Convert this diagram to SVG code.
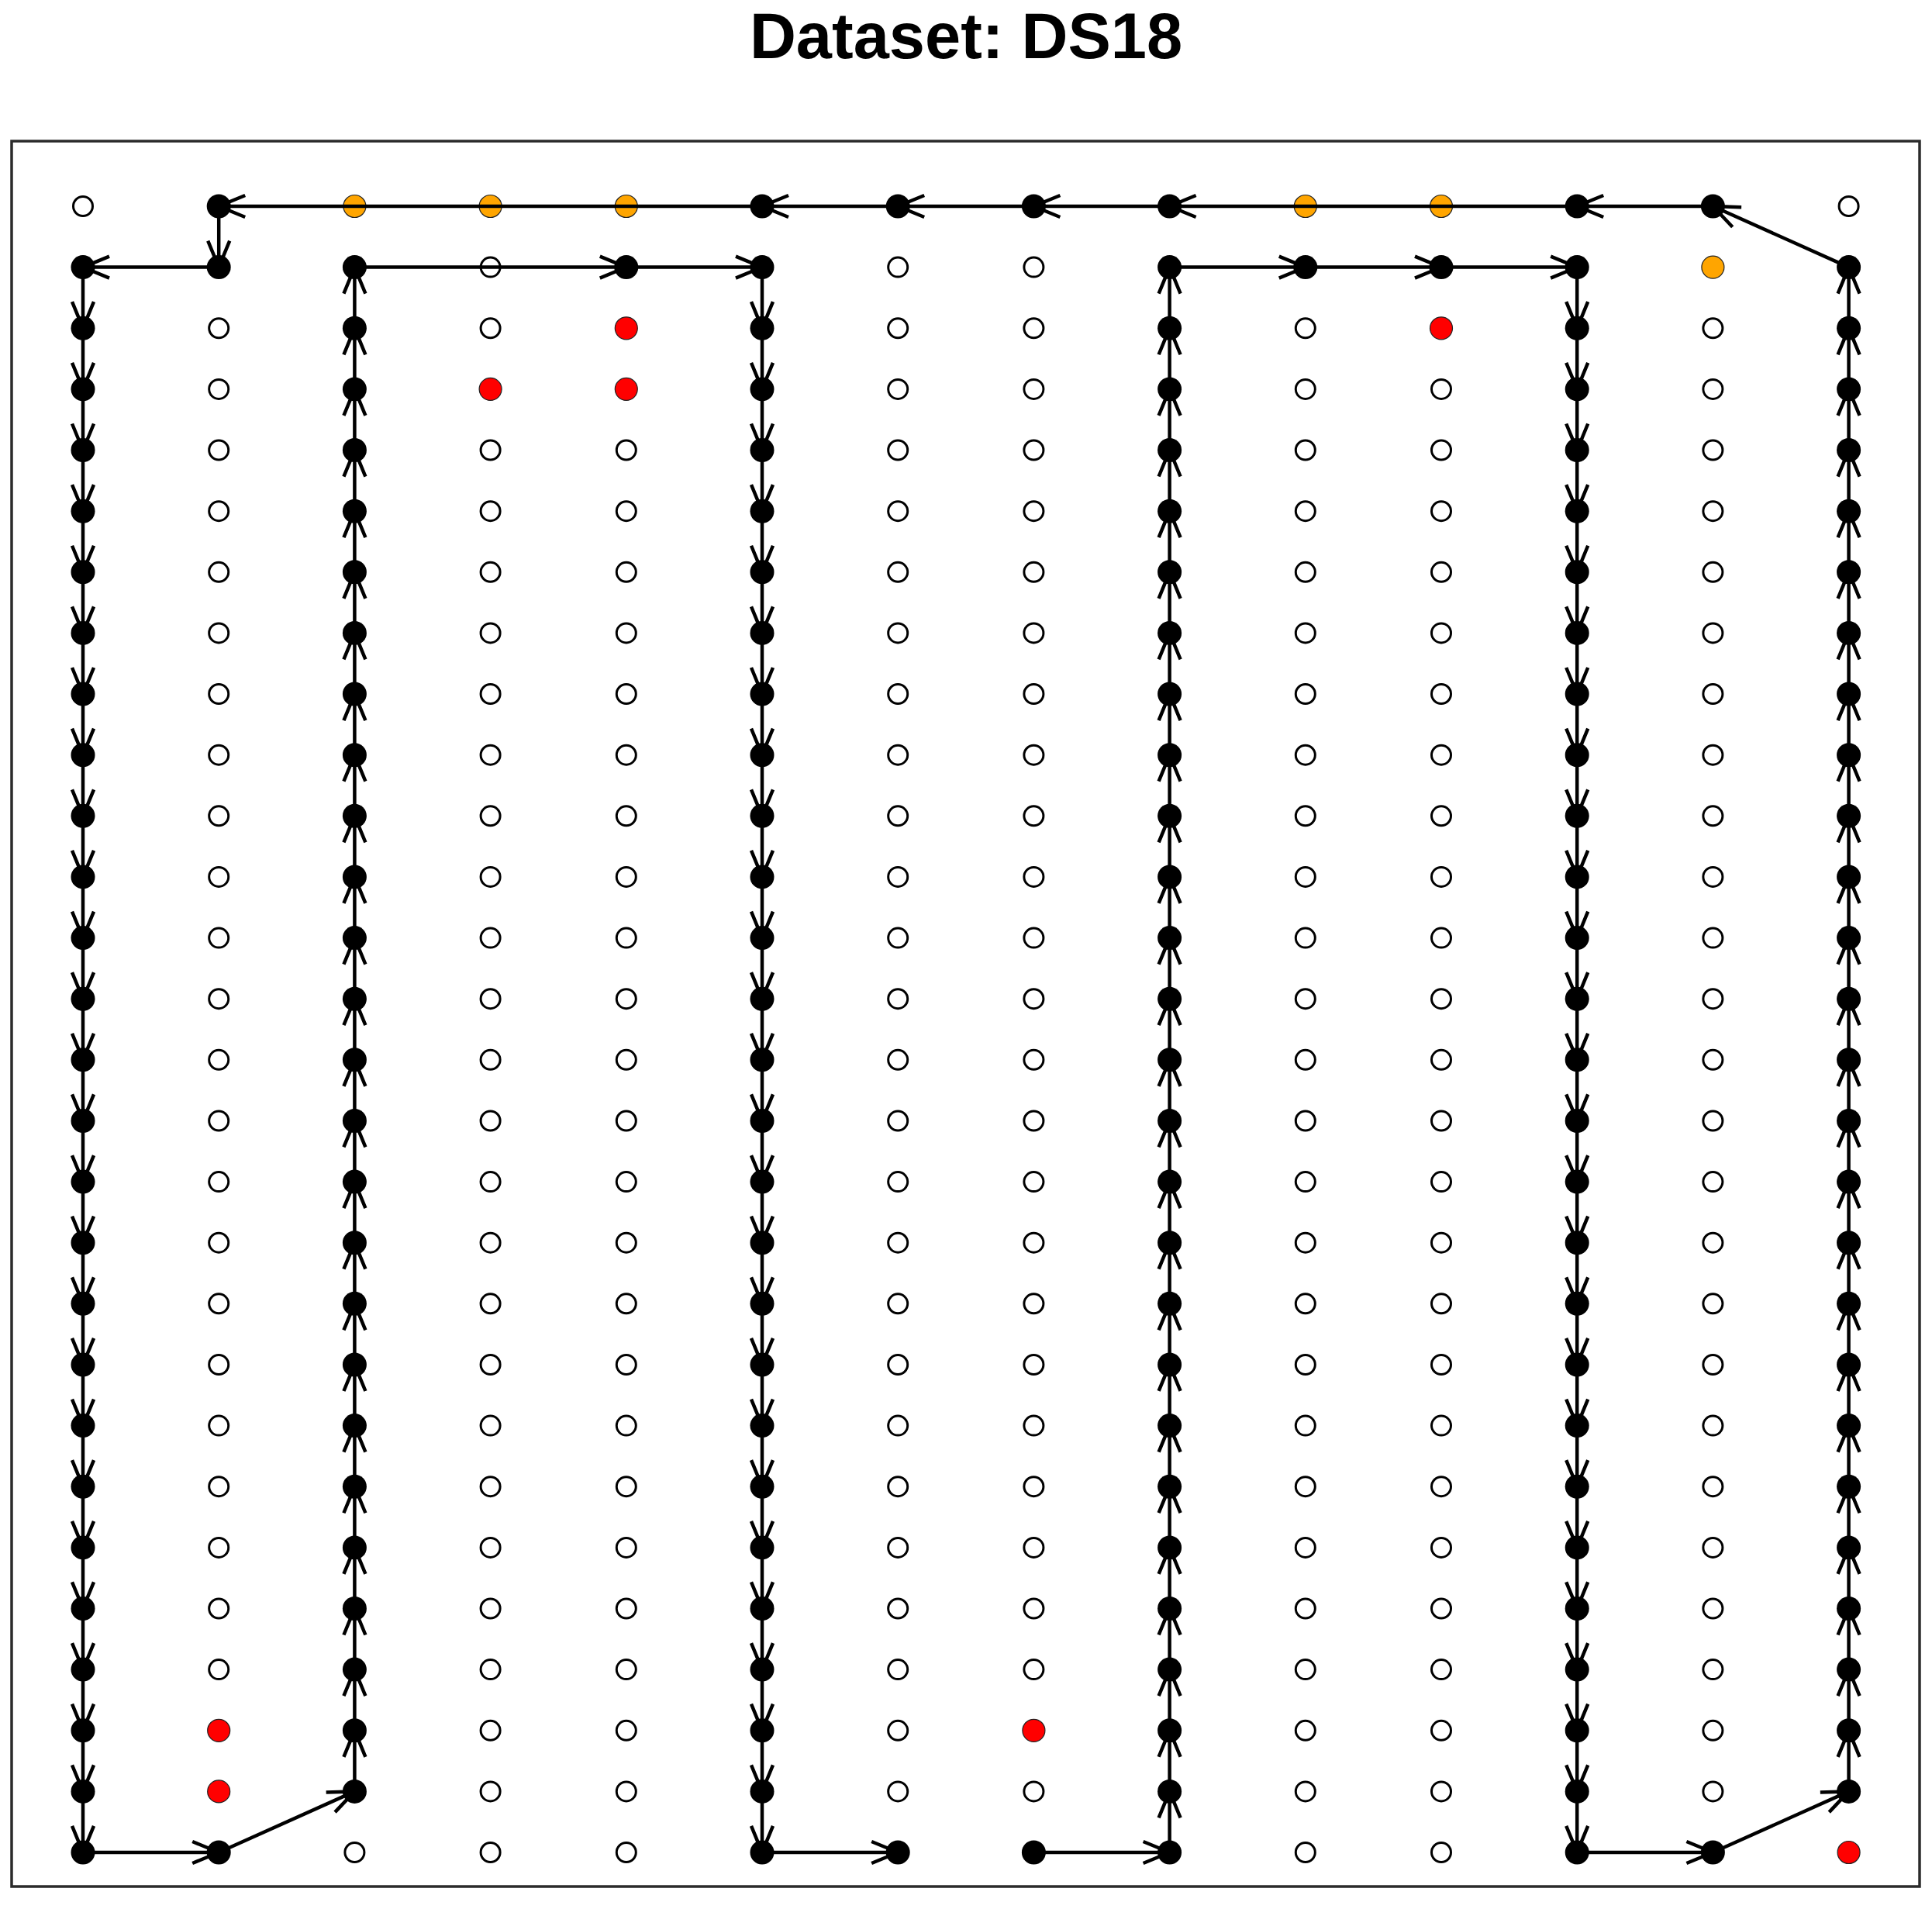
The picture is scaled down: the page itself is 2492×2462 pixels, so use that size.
<svg xmlns="http://www.w3.org/2000/svg" xmlns:xlink="http://www.w3.org/1999/xlink" width="2492" height="2462" viewBox="0 0 2492 2462">
<style>
.title{font-family:"Liberation Sans",Arial,sans-serif;font-weight:bold;font-size:83px;fill:#000}
.frame{fill:none;stroke:#2b2b2b;stroke-width:3.5}
.edge{fill:none;stroke:#000;stroke-width:4.5;marker-mid:url(#ah);marker-end:url(#ah)}
</style>
<defs>
<marker id="ah" markerUnits="userSpaceOnUse" markerWidth="80" markerHeight="80" viewBox="-40 -40 80 80" refX="0" refY="0" orient="auto" overflow="visible">
<path d="M-34,-14 L0,0 L-34,14" fill="none" stroke="#000" stroke-width="4.5"/>
</marker>
<circle id="b" r="15.5" fill="#000"/>
<circle id="o" r="12.5" fill="#fff" stroke="#000" stroke-width="3"/>
<circle id="y" r="14.5" fill="#FFA500" stroke="#222" stroke-width="1.2"/>
<circle id="r" r="14.5" fill="#FF0000" stroke="#222" stroke-width="1.2"/>
</defs>
<rect width="2492" height="2462" fill="#fff"/>
<text class="title" x="1246" y="75" text-anchor="middle">Dataset: DS18</text>
<rect class="frame" x="15" y="182" width="2461" height="2251"/>
<g id="nodes">
<g id="n0-0"><use href="#o" x="107" y="266"/></g><g id="n0-1"><use href="#b" x="282.2" y="266"/></g><g id="n0-2"><use href="#y" x="457.4" y="266"/></g><g id="n0-3"><use href="#y" x="632.6" y="266"/></g><g id="n0-4"><use href="#y" x="807.8" y="266"/></g><g id="n0-5"><use href="#b" x="983" y="266"/></g><g id="n0-6"><use href="#b" x="1158.2" y="266"/></g><g id="n0-7"><use href="#b" x="1333.4" y="266"/></g><g id="n0-8"><use href="#b" x="1508.6" y="266"/></g><g id="n0-9"><use href="#y" x="1683.8" y="266"/></g><g id="n0-10"><use href="#y" x="1859" y="266"/></g><g id="n0-11"><use href="#b" x="2034.2" y="266"/></g><g id="n0-12"><use href="#b" x="2209.4" y="266"/></g><g id="n0-13"><use href="#o" x="2384.6" y="266"/></g>
<g id="n1-0"><use href="#b" x="107" y="344.6"/></g><g id="n1-1"><use href="#b" x="282.2" y="344.6"/></g><g id="n1-2"><use href="#b" x="457.4" y="344.6"/></g><g id="n1-3"><use href="#o" x="632.6" y="344.6"/></g><g id="n1-4"><use href="#b" x="807.8" y="344.6"/></g><g id="n1-5"><use href="#b" x="983" y="344.6"/></g><g id="n1-6"><use href="#o" x="1158.2" y="344.6"/></g><g id="n1-7"><use href="#o" x="1333.4" y="344.6"/></g><g id="n1-8"><use href="#b" x="1508.6" y="344.6"/></g><g id="n1-9"><use href="#b" x="1683.8" y="344.6"/></g><g id="n1-10"><use href="#b" x="1859" y="344.6"/></g><g id="n1-11"><use href="#b" x="2034.2" y="344.6"/></g><g id="n1-12"><use href="#y" x="2209.4" y="344.6"/></g><g id="n1-13"><use href="#b" x="2384.6" y="344.6"/></g>
<g id="n2-0"><use href="#b" x="107" y="423.3"/></g><g id="n2-1"><use href="#o" x="282.2" y="423.3"/></g><g id="n2-2"><use href="#b" x="457.4" y="423.3"/></g><g id="n2-3"><use href="#o" x="632.6" y="423.3"/></g><g id="n2-4"><use href="#r" x="807.8" y="423.3"/></g><g id="n2-5"><use href="#b" x="983" y="423.3"/></g><g id="n2-6"><use href="#o" x="1158.2" y="423.3"/></g><g id="n2-7"><use href="#o" x="1333.4" y="423.3"/></g><g id="n2-8"><use href="#b" x="1508.6" y="423.3"/></g><g id="n2-9"><use href="#o" x="1683.8" y="423.3"/></g><g id="n2-10"><use href="#r" x="1859" y="423.3"/></g><g id="n2-11"><use href="#b" x="2034.2" y="423.3"/></g><g id="n2-12"><use href="#o" x="2209.4" y="423.3"/></g><g id="n2-13"><use href="#b" x="2384.6" y="423.3"/></g>
<g id="n3-0"><use href="#b" x="107" y="501.9"/></g><g id="n3-1"><use href="#o" x="282.2" y="501.9"/></g><g id="n3-2"><use href="#b" x="457.4" y="501.9"/></g><g id="n3-3"><use href="#r" x="632.6" y="501.9"/></g><g id="n3-4"><use href="#r" x="807.8" y="501.9"/></g><g id="n3-5"><use href="#b" x="983" y="501.9"/></g><g id="n3-6"><use href="#o" x="1158.2" y="501.9"/></g><g id="n3-7"><use href="#o" x="1333.4" y="501.9"/></g><g id="n3-8"><use href="#b" x="1508.6" y="501.9"/></g><g id="n3-9"><use href="#o" x="1683.8" y="501.9"/></g><g id="n3-10"><use href="#o" x="1859" y="501.9"/></g><g id="n3-11"><use href="#b" x="2034.2" y="501.9"/></g><g id="n3-12"><use href="#o" x="2209.4" y="501.9"/></g><g id="n3-13"><use href="#b" x="2384.6" y="501.9"/></g>
<g id="n4-0"><use href="#b" x="107" y="580.5"/></g><g id="n4-1"><use href="#o" x="282.2" y="580.5"/></g><g id="n4-2"><use href="#b" x="457.4" y="580.5"/></g><g id="n4-3"><use href="#o" x="632.6" y="580.5"/></g><g id="n4-4"><use href="#o" x="807.8" y="580.5"/></g><g id="n4-5"><use href="#b" x="983" y="580.5"/></g><g id="n4-6"><use href="#o" x="1158.2" y="580.5"/></g><g id="n4-7"><use href="#o" x="1333.4" y="580.5"/></g><g id="n4-8"><use href="#b" x="1508.6" y="580.5"/></g><g id="n4-9"><use href="#o" x="1683.8" y="580.5"/></g><g id="n4-10"><use href="#o" x="1859" y="580.5"/></g><g id="n4-11"><use href="#b" x="2034.2" y="580.5"/></g><g id="n4-12"><use href="#o" x="2209.4" y="580.5"/></g><g id="n4-13"><use href="#b" x="2384.6" y="580.5"/></g>
<g id="n5-0"><use href="#b" x="107" y="659.2"/></g><g id="n5-1"><use href="#o" x="282.2" y="659.2"/></g><g id="n5-2"><use href="#b" x="457.4" y="659.2"/></g><g id="n5-3"><use href="#o" x="632.6" y="659.2"/></g><g id="n5-4"><use href="#o" x="807.8" y="659.2"/></g><g id="n5-5"><use href="#b" x="983" y="659.2"/></g><g id="n5-6"><use href="#o" x="1158.2" y="659.2"/></g><g id="n5-7"><use href="#o" x="1333.4" y="659.2"/></g><g id="n5-8"><use href="#b" x="1508.6" y="659.2"/></g><g id="n5-9"><use href="#o" x="1683.8" y="659.2"/></g><g id="n5-10"><use href="#o" x="1859" y="659.2"/></g><g id="n5-11"><use href="#b" x="2034.2" y="659.2"/></g><g id="n5-12"><use href="#o" x="2209.4" y="659.2"/></g><g id="n5-13"><use href="#b" x="2384.6" y="659.2"/></g>
<g id="n6-0"><use href="#b" x="107" y="737.8"/></g><g id="n6-1"><use href="#o" x="282.2" y="737.8"/></g><g id="n6-2"><use href="#b" x="457.4" y="737.8"/></g><g id="n6-3"><use href="#o" x="632.6" y="737.8"/></g><g id="n6-4"><use href="#o" x="807.8" y="737.8"/></g><g id="n6-5"><use href="#b" x="983" y="737.8"/></g><g id="n6-6"><use href="#o" x="1158.2" y="737.8"/></g><g id="n6-7"><use href="#o" x="1333.4" y="737.8"/></g><g id="n6-8"><use href="#b" x="1508.6" y="737.8"/></g><g id="n6-9"><use href="#o" x="1683.8" y="737.8"/></g><g id="n6-10"><use href="#o" x="1859" y="737.8"/></g><g id="n6-11"><use href="#b" x="2034.2" y="737.8"/></g><g id="n6-12"><use href="#o" x="2209.4" y="737.8"/></g><g id="n6-13"><use href="#b" x="2384.6" y="737.8"/></g>
<g id="n7-0"><use href="#b" x="107" y="816.4"/></g><g id="n7-1"><use href="#o" x="282.2" y="816.4"/></g><g id="n7-2"><use href="#b" x="457.4" y="816.4"/></g><g id="n7-3"><use href="#o" x="632.6" y="816.4"/></g><g id="n7-4"><use href="#o" x="807.8" y="816.4"/></g><g id="n7-5"><use href="#b" x="983" y="816.4"/></g><g id="n7-6"><use href="#o" x="1158.2" y="816.4"/></g><g id="n7-7"><use href="#o" x="1333.4" y="816.4"/></g><g id="n7-8"><use href="#b" x="1508.6" y="816.4"/></g><g id="n7-9"><use href="#o" x="1683.8" y="816.4"/></g><g id="n7-10"><use href="#o" x="1859" y="816.4"/></g><g id="n7-11"><use href="#b" x="2034.2" y="816.4"/></g><g id="n7-12"><use href="#o" x="2209.4" y="816.4"/></g><g id="n7-13"><use href="#b" x="2384.6" y="816.4"/></g>
<g id="n8-0"><use href="#b" x="107" y="895"/></g><g id="n8-1"><use href="#o" x="282.2" y="895"/></g><g id="n8-2"><use href="#b" x="457.4" y="895"/></g><g id="n8-3"><use href="#o" x="632.6" y="895"/></g><g id="n8-4"><use href="#o" x="807.8" y="895"/></g><g id="n8-5"><use href="#b" x="983" y="895"/></g><g id="n8-6"><use href="#o" x="1158.2" y="895"/></g><g id="n8-7"><use href="#o" x="1333.4" y="895"/></g><g id="n8-8"><use href="#b" x="1508.6" y="895"/></g><g id="n8-9"><use href="#o" x="1683.8" y="895"/></g><g id="n8-10"><use href="#o" x="1859" y="895"/></g><g id="n8-11"><use href="#b" x="2034.2" y="895"/></g><g id="n8-12"><use href="#o" x="2209.4" y="895"/></g><g id="n8-13"><use href="#b" x="2384.6" y="895"/></g>
<g id="n9-0"><use href="#b" x="107" y="973.7"/></g><g id="n9-1"><use href="#o" x="282.2" y="973.7"/></g><g id="n9-2"><use href="#b" x="457.4" y="973.7"/></g><g id="n9-3"><use href="#o" x="632.6" y="973.7"/></g><g id="n9-4"><use href="#o" x="807.8" y="973.7"/></g><g id="n9-5"><use href="#b" x="983" y="973.7"/></g><g id="n9-6"><use href="#o" x="1158.2" y="973.7"/></g><g id="n9-7"><use href="#o" x="1333.4" y="973.7"/></g><g id="n9-8"><use href="#b" x="1508.6" y="973.7"/></g><g id="n9-9"><use href="#o" x="1683.8" y="973.7"/></g><g id="n9-10"><use href="#o" x="1859" y="973.7"/></g><g id="n9-11"><use href="#b" x="2034.2" y="973.7"/></g><g id="n9-12"><use href="#o" x="2209.4" y="973.7"/></g><g id="n9-13"><use href="#b" x="2384.6" y="973.7"/></g>
<g id="n10-0"><use href="#b" x="107" y="1052.3"/></g><g id="n10-1"><use href="#o" x="282.2" y="1052.3"/></g><g id="n10-2"><use href="#b" x="457.4" y="1052.3"/></g><g id="n10-3"><use href="#o" x="632.6" y="1052.3"/></g><g id="n10-4"><use href="#o" x="807.8" y="1052.3"/></g><g id="n10-5"><use href="#b" x="983" y="1052.3"/></g><g id="n10-6"><use href="#o" x="1158.2" y="1052.3"/></g><g id="n10-7"><use href="#o" x="1333.4" y="1052.3"/></g><g id="n10-8"><use href="#b" x="1508.6" y="1052.3"/></g><g id="n10-9"><use href="#o" x="1683.8" y="1052.3"/></g><g id="n10-10"><use href="#o" x="1859" y="1052.3"/></g><g id="n10-11"><use href="#b" x="2034.2" y="1052.3"/></g><g id="n10-12"><use href="#o" x="2209.4" y="1052.3"/></g><g id="n10-13"><use href="#b" x="2384.6" y="1052.3"/></g>
<g id="n11-0"><use href="#b" x="107" y="1130.9"/></g><g id="n11-1"><use href="#o" x="282.2" y="1130.9"/></g><g id="n11-2"><use href="#b" x="457.4" y="1130.9"/></g><g id="n11-3"><use href="#o" x="632.6" y="1130.9"/></g><g id="n11-4"><use href="#o" x="807.8" y="1130.9"/></g><g id="n11-5"><use href="#b" x="983" y="1130.9"/></g><g id="n11-6"><use href="#o" x="1158.2" y="1130.9"/></g><g id="n11-7"><use href="#o" x="1333.4" y="1130.9"/></g><g id="n11-8"><use href="#b" x="1508.6" y="1130.9"/></g><g id="n11-9"><use href="#o" x="1683.8" y="1130.9"/></g><g id="n11-10"><use href="#o" x="1859" y="1130.9"/></g><g id="n11-11"><use href="#b" x="2034.2" y="1130.9"/></g><g id="n11-12"><use href="#o" x="2209.4" y="1130.9"/></g><g id="n11-13"><use href="#b" x="2384.6" y="1130.9"/></g>
<g id="n12-0"><use href="#b" x="107" y="1209.6"/></g><g id="n12-1"><use href="#o" x="282.2" y="1209.6"/></g><g id="n12-2"><use href="#b" x="457.4" y="1209.6"/></g><g id="n12-3"><use href="#o" x="632.6" y="1209.6"/></g><g id="n12-4"><use href="#o" x="807.8" y="1209.6"/></g><g id="n12-5"><use href="#b" x="983" y="1209.6"/></g><g id="n12-6"><use href="#o" x="1158.2" y="1209.6"/></g><g id="n12-7"><use href="#o" x="1333.4" y="1209.6"/></g><g id="n12-8"><use href="#b" x="1508.6" y="1209.6"/></g><g id="n12-9"><use href="#o" x="1683.8" y="1209.6"/></g><g id="n12-10"><use href="#o" x="1859" y="1209.6"/></g><g id="n12-11"><use href="#b" x="2034.2" y="1209.6"/></g><g id="n12-12"><use href="#o" x="2209.4" y="1209.6"/></g><g id="n12-13"><use href="#b" x="2384.6" y="1209.6"/></g>
<g id="n13-0"><use href="#b" x="107" y="1288.2"/></g><g id="n13-1"><use href="#o" x="282.2" y="1288.2"/></g><g id="n13-2"><use href="#b" x="457.4" y="1288.2"/></g><g id="n13-3"><use href="#o" x="632.6" y="1288.2"/></g><g id="n13-4"><use href="#o" x="807.8" y="1288.2"/></g><g id="n13-5"><use href="#b" x="983" y="1288.2"/></g><g id="n13-6"><use href="#o" x="1158.2" y="1288.2"/></g><g id="n13-7"><use href="#o" x="1333.4" y="1288.2"/></g><g id="n13-8"><use href="#b" x="1508.6" y="1288.2"/></g><g id="n13-9"><use href="#o" x="1683.8" y="1288.2"/></g><g id="n13-10"><use href="#o" x="1859" y="1288.2"/></g><g id="n13-11"><use href="#b" x="2034.2" y="1288.2"/></g><g id="n13-12"><use href="#o" x="2209.4" y="1288.2"/></g><g id="n13-13"><use href="#b" x="2384.6" y="1288.2"/></g>
<g id="n14-0"><use href="#b" x="107" y="1366.8"/></g><g id="n14-1"><use href="#o" x="282.2" y="1366.8"/></g><g id="n14-2"><use href="#b" x="457.4" y="1366.8"/></g><g id="n14-3"><use href="#o" x="632.6" y="1366.8"/></g><g id="n14-4"><use href="#o" x="807.8" y="1366.8"/></g><g id="n14-5"><use href="#b" x="983" y="1366.8"/></g><g id="n14-6"><use href="#o" x="1158.2" y="1366.8"/></g><g id="n14-7"><use href="#o" x="1333.4" y="1366.8"/></g><g id="n14-8"><use href="#b" x="1508.6" y="1366.8"/></g><g id="n14-9"><use href="#o" x="1683.8" y="1366.8"/></g><g id="n14-10"><use href="#o" x="1859" y="1366.8"/></g><g id="n14-11"><use href="#b" x="2034.2" y="1366.8"/></g><g id="n14-12"><use href="#o" x="2209.4" y="1366.8"/></g><g id="n14-13"><use href="#b" x="2384.6" y="1366.8"/></g>
<g id="n15-0"><use href="#b" x="107" y="1445.5"/></g><g id="n15-1"><use href="#o" x="282.2" y="1445.5"/></g><g id="n15-2"><use href="#b" x="457.4" y="1445.5"/></g><g id="n15-3"><use href="#o" x="632.6" y="1445.5"/></g><g id="n15-4"><use href="#o" x="807.8" y="1445.5"/></g><g id="n15-5"><use href="#b" x="983" y="1445.5"/></g><g id="n15-6"><use href="#o" x="1158.2" y="1445.5"/></g><g id="n15-7"><use href="#o" x="1333.4" y="1445.5"/></g><g id="n15-8"><use href="#b" x="1508.6" y="1445.5"/></g><g id="n15-9"><use href="#o" x="1683.8" y="1445.5"/></g><g id="n15-10"><use href="#o" x="1859" y="1445.5"/></g><g id="n15-11"><use href="#b" x="2034.2" y="1445.5"/></g><g id="n15-12"><use href="#o" x="2209.4" y="1445.5"/></g><g id="n15-13"><use href="#b" x="2384.6" y="1445.5"/></g>
<g id="n16-0"><use href="#b" x="107" y="1524.1"/></g><g id="n16-1"><use href="#o" x="282.2" y="1524.1"/></g><g id="n16-2"><use href="#b" x="457.4" y="1524.1"/></g><g id="n16-3"><use href="#o" x="632.6" y="1524.1"/></g><g id="n16-4"><use href="#o" x="807.8" y="1524.1"/></g><g id="n16-5"><use href="#b" x="983" y="1524.1"/></g><g id="n16-6"><use href="#o" x="1158.2" y="1524.1"/></g><g id="n16-7"><use href="#o" x="1333.4" y="1524.1"/></g><g id="n16-8"><use href="#b" x="1508.6" y="1524.1"/></g><g id="n16-9"><use href="#o" x="1683.8" y="1524.1"/></g><g id="n16-10"><use href="#o" x="1859" y="1524.1"/></g><g id="n16-11"><use href="#b" x="2034.2" y="1524.1"/></g><g id="n16-12"><use href="#o" x="2209.4" y="1524.1"/></g><g id="n16-13"><use href="#b" x="2384.6" y="1524.1"/></g>
<g id="n17-0"><use href="#b" x="107" y="1602.7"/></g><g id="n17-1"><use href="#o" x="282.2" y="1602.7"/></g><g id="n17-2"><use href="#b" x="457.4" y="1602.7"/></g><g id="n17-3"><use href="#o" x="632.6" y="1602.7"/></g><g id="n17-4"><use href="#o" x="807.8" y="1602.7"/></g><g id="n17-5"><use href="#b" x="983" y="1602.7"/></g><g id="n17-6"><use href="#o" x="1158.2" y="1602.7"/></g><g id="n17-7"><use href="#o" x="1333.4" y="1602.7"/></g><g id="n17-8"><use href="#b" x="1508.6" y="1602.7"/></g><g id="n17-9"><use href="#o" x="1683.8" y="1602.7"/></g><g id="n17-10"><use href="#o" x="1859" y="1602.7"/></g><g id="n17-11"><use href="#b" x="2034.2" y="1602.7"/></g><g id="n17-12"><use href="#o" x="2209.4" y="1602.7"/></g><g id="n17-13"><use href="#b" x="2384.6" y="1602.7"/></g>
<g id="n18-0"><use href="#b" x="107" y="1681.3"/></g><g id="n18-1"><use href="#o" x="282.2" y="1681.3"/></g><g id="n18-2"><use href="#b" x="457.4" y="1681.3"/></g><g id="n18-3"><use href="#o" x="632.6" y="1681.3"/></g><g id="n18-4"><use href="#o" x="807.8" y="1681.3"/></g><g id="n18-5"><use href="#b" x="983" y="1681.3"/></g><g id="n18-6"><use href="#o" x="1158.2" y="1681.3"/></g><g id="n18-7"><use href="#o" x="1333.4" y="1681.3"/></g><g id="n18-8"><use href="#b" x="1508.6" y="1681.3"/></g><g id="n18-9"><use href="#o" x="1683.8" y="1681.3"/></g><g id="n18-10"><use href="#o" x="1859" y="1681.3"/></g><g id="n18-11"><use href="#b" x="2034.2" y="1681.3"/></g><g id="n18-12"><use href="#o" x="2209.4" y="1681.3"/></g><g id="n18-13"><use href="#b" x="2384.6" y="1681.3"/></g>
<g id="n19-0"><use href="#b" x="107" y="1760"/></g><g id="n19-1"><use href="#o" x="282.2" y="1760"/></g><g id="n19-2"><use href="#b" x="457.4" y="1760"/></g><g id="n19-3"><use href="#o" x="632.6" y="1760"/></g><g id="n19-4"><use href="#o" x="807.8" y="1760"/></g><g id="n19-5"><use href="#b" x="983" y="1760"/></g><g id="n19-6"><use href="#o" x="1158.2" y="1760"/></g><g id="n19-7"><use href="#o" x="1333.4" y="1760"/></g><g id="n19-8"><use href="#b" x="1508.6" y="1760"/></g><g id="n19-9"><use href="#o" x="1683.8" y="1760"/></g><g id="n19-10"><use href="#o" x="1859" y="1760"/></g><g id="n19-11"><use href="#b" x="2034.2" y="1760"/></g><g id="n19-12"><use href="#o" x="2209.4" y="1760"/></g><g id="n19-13"><use href="#b" x="2384.6" y="1760"/></g>
<g id="n20-0"><use href="#b" x="107" y="1838.6"/></g><g id="n20-1"><use href="#o" x="282.2" y="1838.6"/></g><g id="n20-2"><use href="#b" x="457.4" y="1838.6"/></g><g id="n20-3"><use href="#o" x="632.6" y="1838.6"/></g><g id="n20-4"><use href="#o" x="807.8" y="1838.6"/></g><g id="n20-5"><use href="#b" x="983" y="1838.6"/></g><g id="n20-6"><use href="#o" x="1158.2" y="1838.6"/></g><g id="n20-7"><use href="#o" x="1333.4" y="1838.6"/></g><g id="n20-8"><use href="#b" x="1508.6" y="1838.6"/></g><g id="n20-9"><use href="#o" x="1683.8" y="1838.6"/></g><g id="n20-10"><use href="#o" x="1859" y="1838.6"/></g><g id="n20-11"><use href="#b" x="2034.2" y="1838.6"/></g><g id="n20-12"><use href="#o" x="2209.4" y="1838.6"/></g><g id="n20-13"><use href="#b" x="2384.6" y="1838.6"/></g>
<g id="n21-0"><use href="#b" x="107" y="1917.2"/></g><g id="n21-1"><use href="#o" x="282.2" y="1917.2"/></g><g id="n21-2"><use href="#b" x="457.4" y="1917.2"/></g><g id="n21-3"><use href="#o" x="632.6" y="1917.2"/></g><g id="n21-4"><use href="#o" x="807.8" y="1917.2"/></g><g id="n21-5"><use href="#b" x="983" y="1917.2"/></g><g id="n21-6"><use href="#o" x="1158.2" y="1917.2"/></g><g id="n21-7"><use href="#o" x="1333.4" y="1917.2"/></g><g id="n21-8"><use href="#b" x="1508.6" y="1917.2"/></g><g id="n21-9"><use href="#o" x="1683.8" y="1917.2"/></g><g id="n21-10"><use href="#o" x="1859" y="1917.2"/></g><g id="n21-11"><use href="#b" x="2034.2" y="1917.2"/></g><g id="n21-12"><use href="#o" x="2209.4" y="1917.2"/></g><g id="n21-13"><use href="#b" x="2384.6" y="1917.2"/></g>
<g id="n22-0"><use href="#b" x="107" y="1995.9"/></g><g id="n22-1"><use href="#o" x="282.2" y="1995.9"/></g><g id="n22-2"><use href="#b" x="457.4" y="1995.9"/></g><g id="n22-3"><use href="#o" x="632.6" y="1995.9"/></g><g id="n22-4"><use href="#o" x="807.8" y="1995.9"/></g><g id="n22-5"><use href="#b" x="983" y="1995.9"/></g><g id="n22-6"><use href="#o" x="1158.2" y="1995.9"/></g><g id="n22-7"><use href="#o" x="1333.4" y="1995.9"/></g><g id="n22-8"><use href="#b" x="1508.6" y="1995.9"/></g><g id="n22-9"><use href="#o" x="1683.8" y="1995.9"/></g><g id="n22-10"><use href="#o" x="1859" y="1995.9"/></g><g id="n22-11"><use href="#b" x="2034.2" y="1995.9"/></g><g id="n22-12"><use href="#o" x="2209.4" y="1995.9"/></g><g id="n22-13"><use href="#b" x="2384.6" y="1995.9"/></g>
<g id="n23-0"><use href="#b" x="107" y="2074.5"/></g><g id="n23-1"><use href="#o" x="282.2" y="2074.5"/></g><g id="n23-2"><use href="#b" x="457.4" y="2074.5"/></g><g id="n23-3"><use href="#o" x="632.6" y="2074.5"/></g><g id="n23-4"><use href="#o" x="807.8" y="2074.5"/></g><g id="n23-5"><use href="#b" x="983" y="2074.5"/></g><g id="n23-6"><use href="#o" x="1158.2" y="2074.5"/></g><g id="n23-7"><use href="#o" x="1333.4" y="2074.5"/></g><g id="n23-8"><use href="#b" x="1508.6" y="2074.5"/></g><g id="n23-9"><use href="#o" x="1683.8" y="2074.5"/></g><g id="n23-10"><use href="#o" x="1859" y="2074.5"/></g><g id="n23-11"><use href="#b" x="2034.2" y="2074.5"/></g><g id="n23-12"><use href="#o" x="2209.4" y="2074.5"/></g><g id="n23-13"><use href="#b" x="2384.6" y="2074.5"/></g>
<g id="n24-0"><use href="#b" x="107" y="2153.1"/></g><g id="n24-1"><use href="#o" x="282.2" y="2153.1"/></g><g id="n24-2"><use href="#b" x="457.4" y="2153.1"/></g><g id="n24-3"><use href="#o" x="632.6" y="2153.1"/></g><g id="n24-4"><use href="#o" x="807.8" y="2153.1"/></g><g id="n24-5"><use href="#b" x="983" y="2153.1"/></g><g id="n24-6"><use href="#o" x="1158.2" y="2153.1"/></g><g id="n24-7"><use href="#o" x="1333.4" y="2153.1"/></g><g id="n24-8"><use href="#b" x="1508.6" y="2153.1"/></g><g id="n24-9"><use href="#o" x="1683.8" y="2153.1"/></g><g id="n24-10"><use href="#o" x="1859" y="2153.1"/></g><g id="n24-11"><use href="#b" x="2034.2" y="2153.1"/></g><g id="n24-12"><use href="#o" x="2209.4" y="2153.1"/></g><g id="n24-13"><use href="#b" x="2384.6" y="2153.1"/></g>
<g id="n25-0"><use href="#b" x="107" y="2231.8"/></g><g id="n25-1"><use href="#r" x="282.2" y="2231.8"/></g><g id="n25-2"><use href="#b" x="457.4" y="2231.8"/></g><g id="n25-3"><use href="#o" x="632.6" y="2231.8"/></g><g id="n25-4"><use href="#o" x="807.8" y="2231.8"/></g><g id="n25-5"><use href="#b" x="983" y="2231.8"/></g><g id="n25-6"><use href="#o" x="1158.2" y="2231.8"/></g><g id="n25-7"><use href="#r" x="1333.4" y="2231.8"/></g><g id="n25-8"><use href="#b" x="1508.6" y="2231.8"/></g><g id="n25-9"><use href="#o" x="1683.8" y="2231.8"/></g><g id="n25-10"><use href="#o" x="1859" y="2231.8"/></g><g id="n25-11"><use href="#b" x="2034.2" y="2231.8"/></g><g id="n25-12"><use href="#o" x="2209.4" y="2231.8"/></g><g id="n25-13"><use href="#b" x="2384.6" y="2231.8"/></g>
<g id="n26-0"><use href="#b" x="107" y="2310.4"/></g><g id="n26-1"><use href="#r" x="282.2" y="2310.4"/></g><g id="n26-2"><use href="#b" x="457.4" y="2310.4"/></g><g id="n26-3"><use href="#o" x="632.6" y="2310.4"/></g><g id="n26-4"><use href="#o" x="807.8" y="2310.4"/></g><g id="n26-5"><use href="#b" x="983" y="2310.4"/></g><g id="n26-6"><use href="#o" x="1158.2" y="2310.4"/></g><g id="n26-7"><use href="#o" x="1333.4" y="2310.4"/></g><g id="n26-8"><use href="#b" x="1508.6" y="2310.4"/></g><g id="n26-9"><use href="#o" x="1683.8" y="2310.4"/></g><g id="n26-10"><use href="#o" x="1859" y="2310.4"/></g><g id="n26-11"><use href="#b" x="2034.2" y="2310.4"/></g><g id="n26-12"><use href="#o" x="2209.4" y="2310.4"/></g><g id="n26-13"><use href="#b" x="2384.6" y="2310.4"/></g>
<g id="n27-0"><use href="#b" x="107" y="2389"/></g><g id="n27-1"><use href="#b" x="282.2" y="2389"/></g><g id="n27-2"><use href="#o" x="457.4" y="2389"/></g><g id="n27-3"><use href="#o" x="632.6" y="2389"/></g><g id="n27-4"><use href="#o" x="807.8" y="2389"/></g><g id="n27-5"><use href="#b" x="983" y="2389"/></g><g id="n27-6"><use href="#b" x="1158.2" y="2389"/></g><g id="n27-7"><use href="#b" x="1333.4" y="2389"/></g><g id="n27-8"><use href="#b" x="1508.6" y="2389"/></g><g id="n27-9"><use href="#o" x="1683.8" y="2389"/></g><g id="n27-10"><use href="#o" x="1859" y="2389"/></g><g id="n27-11"><use href="#b" x="2034.2" y="2389"/></g><g id="n27-12"><use href="#b" x="2209.4" y="2389"/></g><g id="n27-13"><use href="#r" x="2384.6" y="2389"/></g>
</g>
<g id="connectors">
<path class="edge" d="M2384.6,344.6 L2209.4,266"/>
<path class="edge" d="M2209.4,266 L2034.2,266 L1508.6,266 L1333.4,266 L1158.2,266 L983,266 L282.2,266"/>
<path class="edge" d="M282.2,266 L282.2,344.6"/>
<path class="edge" d="M282.2,344.6 L107,344.6"/>
<path class="edge" d="M107,344.6 v78.63 v78.63 v78.63 v78.63 v78.63 v78.63 v78.63 v78.63 v78.63 v78.63 v78.63 v78.63 v78.63 v78.63 v78.63 v78.63 v78.63 v78.63 v78.63 v78.63 v78.63 v78.63 v78.63 v78.63 v78.63 v78.63"/>
<path class="edge" d="M107,2389 L282.2,2389"/>
<path class="edge" d="M282.2,2389 L457.4,2310.4"/>
<path class="edge" d="M457.4,2310.4 v-78.63 v-78.63 v-78.63 v-78.63 v-78.63 v-78.63 v-78.63 v-78.63 v-78.63 v-78.63 v-78.63 v-78.63 v-78.63 v-78.63 v-78.63 v-78.63 v-78.63 v-78.63 v-78.63 v-78.63 v-78.63 v-78.63 v-78.63 v-78.63 v-78.63"/>
<path class="edge" d="M457.4,344.6 L807.8,344.6 L983,344.6"/>
<path class="edge" d="M983,344.6 v78.63 v78.63 v78.63 v78.63 v78.63 v78.63 v78.63 v78.63 v78.63 v78.63 v78.63 v78.63 v78.63 v78.63 v78.63 v78.63 v78.63 v78.63 v78.63 v78.63 v78.63 v78.63 v78.63 v78.63 v78.63 v78.63"/>
<path class="edge" d="M983,2389 L1158.2,2389"/>
<path class="edge" d="M1333.4,2389 L1508.6,2389"/>
<path class="edge" d="M1508.6,2389 v-78.63 v-78.63 v-78.63 v-78.63 v-78.63 v-78.63 v-78.63 v-78.63 v-78.63 v-78.63 v-78.63 v-78.63 v-78.63 v-78.63 v-78.63 v-78.63 v-78.63 v-78.63 v-78.63 v-78.63 v-78.63 v-78.63 v-78.63 v-78.63 v-78.63 v-78.63"/>
<path class="edge" d="M1508.6,344.6 L1683.8,344.6 L1859,344.6 L2034.2,344.6"/>
<path class="edge" d="M2034.2,344.6 v78.63 v78.63 v78.63 v78.63 v78.63 v78.63 v78.63 v78.63 v78.63 v78.63 v78.63 v78.63 v78.63 v78.63 v78.63 v78.63 v78.63 v78.63 v78.63 v78.63 v78.63 v78.63 v78.63 v78.63 v78.63 v78.63"/>
<path class="edge" d="M2034.2,2389 L2209.4,2389"/>
<path class="edge" d="M2209.4,2389 L2384.6,2310.4"/>
<path class="edge" d="M2384.6,2310.4 v-78.63 v-78.63 v-78.63 v-78.63 v-78.63 v-78.63 v-78.63 v-78.63 v-78.63 v-78.63 v-78.63 v-78.63 v-78.63 v-78.63 v-78.63 v-78.63 v-78.63 v-78.63 v-78.63 v-78.63 v-78.63 v-78.63 v-78.63 v-78.63 v-78.63"/>
</g>
</svg>
